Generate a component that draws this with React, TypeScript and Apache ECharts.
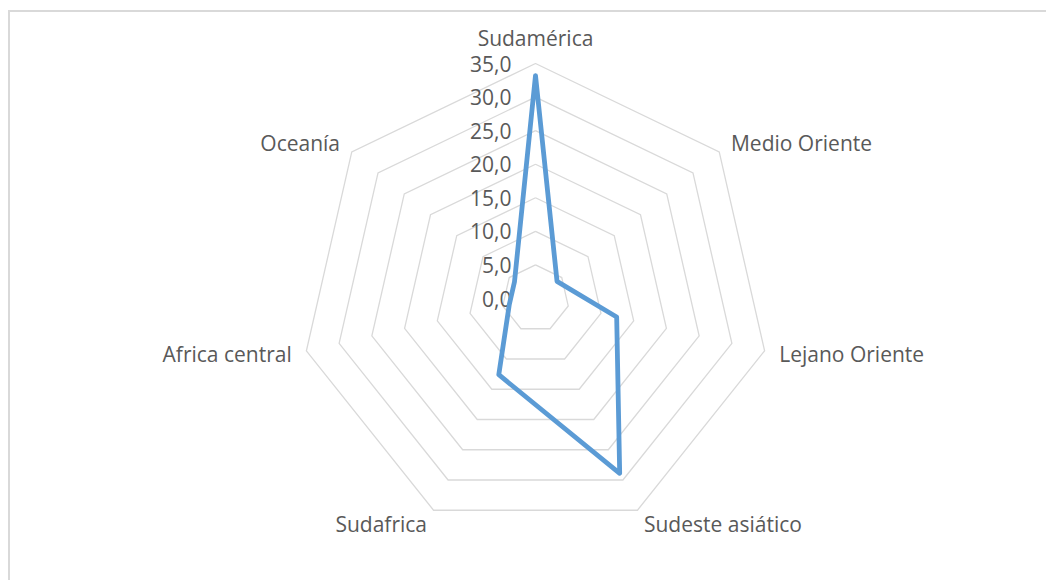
import React, { useEffect, useRef } from 'react';
import * as echarts from 'echarts';

// Indicators in clockwise order starting at the top
const regions = [
  'Sudamérica',
  'Medio Oriente',
  'Lejano Oriente',
  'Sudeste asiático',
  'Sudafrica',
  'Africa central',
  'Oceanía',
];
const values = [33.2, 4.1, 12.4, 28.9, 12.6, 4.0, 4.0];
const axisMin = 0;
const axisMax = 35;
const axisSplits = 7;

const FONT = "'Open Sans', 'Liberation Sans', sans-serif";
const TEXT = '#595959';

export default function App() {
  const ref = useRef<HTMLDivElement>(null);

  useEffect(() => {
    document.body.style.margin = '0';
    if (!ref.current) return;
    const chart = echarts.init(ref.current, undefined, { renderer: 'svg' });

    // ECharts places radar indicators counter-clockwise; reorder to get clockwise layout
    const order = regions.map((_, i) => (i === 0 ? 0 : regions.length - i));
    const indicator = order.map((idx, k) => ({
      name: regions[idx],
      min: axisMin,
      max: axisMax,
      ...(k === 0
        ? {
            axisLabel: {
              show: true,
              showMinLabel: true,
              showMaxLabel: true,
              margin: 24,
              color: TEXT,
              fontSize: 21,
              lineHeight: 21,
              fontFamily: FONT,
              formatter: (v: number) => Number(v).toFixed(1).replace('.', ','),
            },
          }
        : {}),
    }));
    const data = order.map((idx) => values[idx]);

    chart.setOption({
      animation: false,
      backgroundColor: '#ffffff',
      graphic: [
        {
          type: 'rect',
          shape: { x: 9, y: 11, width: 1100, height: 700 },
          style: { fill: 'none', stroke: '#d9d9d9', lineWidth: 2 },
          silent: true,
        },
      ],
      radar: {
        center: [535.5, 298.5],
        radius: 235,
        startAngle: 90,
        splitNumber: axisSplits,
        shape: 'polygon',
        indicator,
        nameGap: 15,
        axisName: {
          color: TEXT,
          fontSize: 21,
          lineHeight: 21,
          fontFamily: FONT,
        },
        axisLine: { show: false },
        axisTick: { show: false },
        axisLabel: { show: false },
        splitLine: { lineStyle: { color: '#d9d9d9', width: 1.3 } },
        splitArea: { show: false },
      },
      series: [
        {
          type: 'radar',
          symbol: 'none',
          lineStyle: { color: '#5b9bd5', width: 4.8, cap: 'round', join: 'round' },
          data: [{ value: data, name: 'Serie' }],
        },
      ],
    });

    return () => chart.dispose();
  }, []);

  return <div ref={ref} style={{ width: 1046, height: 580 }} />;
}
